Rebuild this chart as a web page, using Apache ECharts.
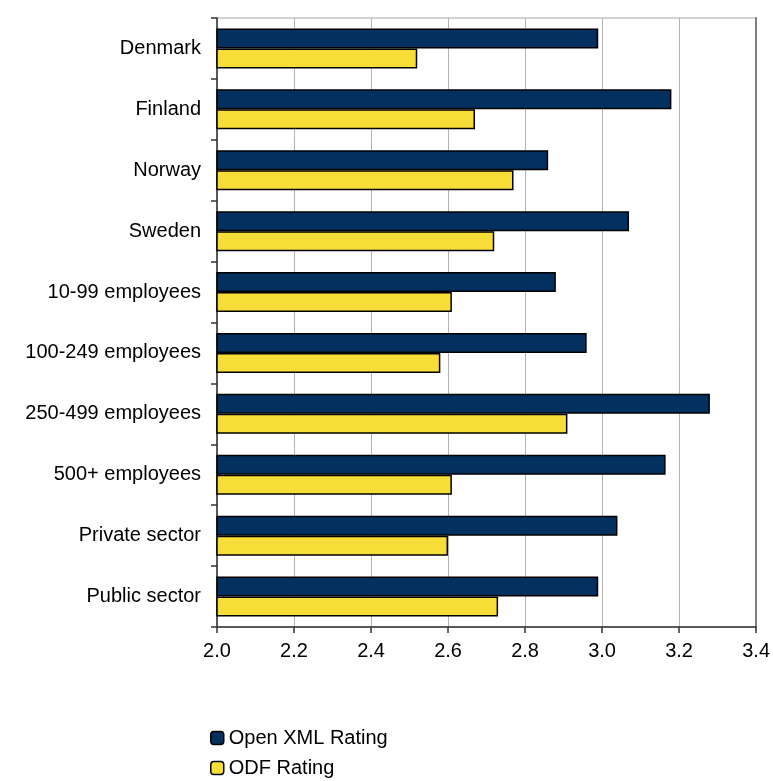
<!DOCTYPE html>
<html>
<head>
<meta charset="utf-8">
<script src="https://cdn.jsdelivr.net/npm/echarts@6/dist/echarts.min.js"></script>
<style>html,body{margin:0;padding:0;background:#fff}#c{width:773px;height:781px}</style>
</head>
<body>
<div id="c"></div>
<script>
const categories = ["Denmark","Finland","Norway","Sweden","10-99 employees","100-249 employees","250-499 employees","500+ employees","Private sector","Public sector"];
const openXml = [2.99, 3.18, 2.86, 3.07, 2.88, 2.96, 3.28, 3.165, 3.04, 2.99];
const odf = [2.52, 2.67, 2.77, 2.72, 2.61, 2.58, 2.91, 2.61, 2.60, 2.73];
const seriesNames = ["Open XML Rating", "ODF Rating"];

const FONT = 'Liberation Sans, Arial, sans-serif';
const chart = echarts.init(document.getElementById('c'), null, {renderer: 'canvas'});
chart.setOption({
  animation: false,
  backgroundColor: '#fff',
  textStyle: {fontFamily: FONT},
  grid: {left: 217, right: 16, top: 18, bottom: 154, show: true, borderColor: '#a6a6a6', borderWidth: 1},
  legend: {
    orient: 'vertical', left: 210, top: 726, height: 60,
    itemWidth: 13, itemHeight: 13, itemGap: 6, padding: 0,
    textStyle: {fontSize: 20, lineHeight: 24, color: '#000', fontFamily: FONT},
    itemStyle: {borderColor: '#000', borderWidth: 1.5},
    data: seriesNames
  },
  xAxis: {
    type: 'value', min: 2.0, max: 3.4, interval: 0.2,
    axisLine: {show: true, lineStyle: {color: '#333', width: 1.5}},
    axisTick: {show: true, length: 6, lineStyle: {color: '#333', width: 1.5}},
    axisLabel: {fontSize: 20, color: '#000', margin: 14, fontFamily: FONT, formatter: v => v.toFixed(1)},
    splitLine: {show: true, lineStyle: {color: '#b3b3b3', width: 1}}
  },
  yAxis: [{
    type: 'category', data: categories, inverse: true,
    axisLine: {show: true, lineStyle: {color: '#333', width: 1.5}},
    axisTick: {show: true, length: 6, lineStyle: {color: '#333', width: 1.5}},
    axisLabel: {fontSize: 20, color: '#000', margin: 16, fontFamily: FONT}
  }, {
    type: 'category', data: categories, inverse: true, position: 'right',
    axisLine: {show: true, lineStyle: {color: '#7f7f7f', width: 2}},
    axisTick: {show: false}, axisLabel: {show: false}
  }],
  series: [{
    name: seriesNames[0], type: 'bar', data: openXml, barWidth: 20, barGap: '0%',
    itemStyle: {color: '#03305f', borderColor: '#000', borderWidth: 1.5}
  }, {
    name: seriesNames[1], type: 'bar', data: odf, barWidth: 20, barGap: '0%',
    itemStyle: {color: '#f7dd38', borderColor: '#000', borderWidth: 1.5}
  }]
});
</script>
</body>
</html>
